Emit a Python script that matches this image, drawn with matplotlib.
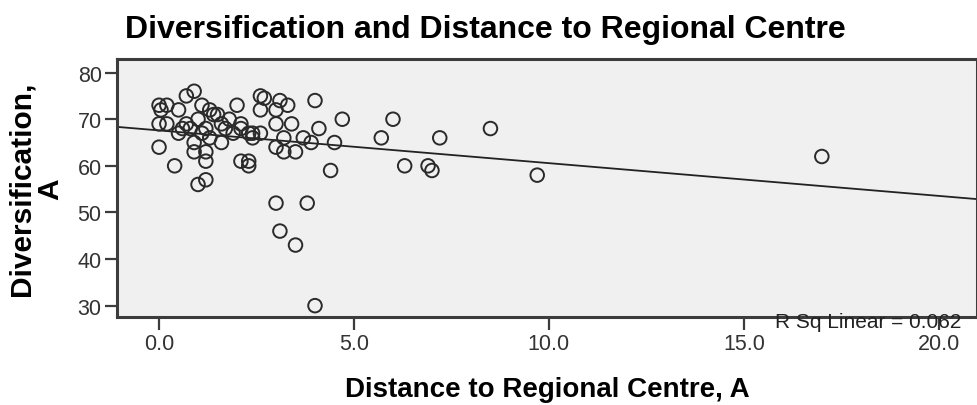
import numpy as np
import matplotlib
matplotlib.use('Agg')
import matplotlib.pyplot as plt

plt.rcParams['font.family'] = ['Liberation Sans', 'DejaVu Sans']

# distance to regional centre (x) and diversification score (y), one pair per case
distance = [0.0, 0.05, 0.2, 0.0, 0.2, 0.0, 0.4,
            0.5, 0.7, 0.9, 0.5, 0.6, 0.7, 0.9, 0.9, 1.1, 1.3, 1.0, 1.2,
            1.5, 1.6, 1.7, 1.2, 1.2, 1.0, 1.2, 1.6, 2.0, 2.1, 2.1, 2.3,
            2.1, 2.3, 2.3, 1.8, 1.4, 1.9, 1.1, 0.8, 1.3,
            2.6, 2.7, 3.1, 3.3, 2.6, 3.0, 4.0, 4.7, 3.0, 3.4, 4.1, 2.4,
            2.6, 3.2, 3.7, 3.9, 4.5, 3.0, 3.2, 3.5, 4.4, 2.4,
            3.0, 3.8, 3.1, 3.5, 4.0,
            6.0, 5.7, 7.2, 8.5, 6.3, 6.9, 7.0, 9.7, 17.0]
diversification = [73, 72, 73, 69, 69, 64, 60,
                   72, 75, 76, 67, 68, 69, 65, 63, 73, 72, 70, 68,
                   71, 69, 68, 63, 61, 56, 57, 65, 73, 69, 68, 67,
                   61, 61, 60, 70, 71, 67, 67, 68, 66,
                   75, 74.5, 74, 73, 72, 72, 74, 70, 69, 69, 68, 67,
                   67, 66, 66, 65, 65, 64, 63, 63, 59, 66,
                   52, 52, 46, 43, 30,
                   70, 66, 66, 68, 60, 60, 59, 58, 62]
r_sq_label = 'R Sq Linear = 0.062'

xticks = [0, 5, 10, 15, 20]
yticks = [30, 40, 50, 60, 70, 80]

frame = '#3c3c3c'

fig = plt.figure(figsize=(9.77, 4.06), dpi=100)
ax = fig.add_axes([0.1197, 0.216, 0.8803, 0.636])
ax.set_facecolor('#f0f0f0')

ax.scatter(distance, diversification, s=95, facecolors='none',
           edgecolors='#2a2a2a', linewidths=1.4, zorder=3)

# least squares fit line across the whole x range
slope, intercept = np.polyfit(distance, diversification, 1)
xl = np.array([-1.1, 21.0])
ax.plot(xl, intercept + slope * xl, color='#222222', lw=1.3, zorder=2)

ax.set_xlim(-1.08, 20.98)
ax.set_ylim(27.5, 82.9)
ax.set_xticks(xticks)
ax.set_xticklabels(['%.1f' % v for v in xticks])
ax.set_yticks(yticks)

for sp in ax.spines.values():
    sp.set_color(frame)
    sp.set_linewidth(2.2)
ax.tick_params(direction='out', length=9, width=1.6, color=frame,
               labelsize=15.5, labelcolor='#333333', pad=2)

ax.text(20.58, 25.45, r_sq_label, ha='right', va='baseline', fontsize=15,
        color='#222222', zorder=5, clip_on=False)

fig.text(0.128, 0.906, 'Diversification and Distance to Regional Centre',
         fontsize=23, fontweight='bold', ha='left', va='baseline')

ax.set_xlabel('Distance to Regional Centre, A', fontsize=20,
              fontweight='bold')
ax.xaxis.label.set_va('baseline')
ax.xaxis.set_label_coords(0.5, -0.305)

ax.set_ylabel('Diversification,\nA', fontsize=21.5, fontweight='bold',
              linespacing=1.05)
ax.yaxis.label.set_va('center')
ax.yaxis.set_label_coords(-0.094, 0.5)

fig.savefig('out.png', dpi=100)
